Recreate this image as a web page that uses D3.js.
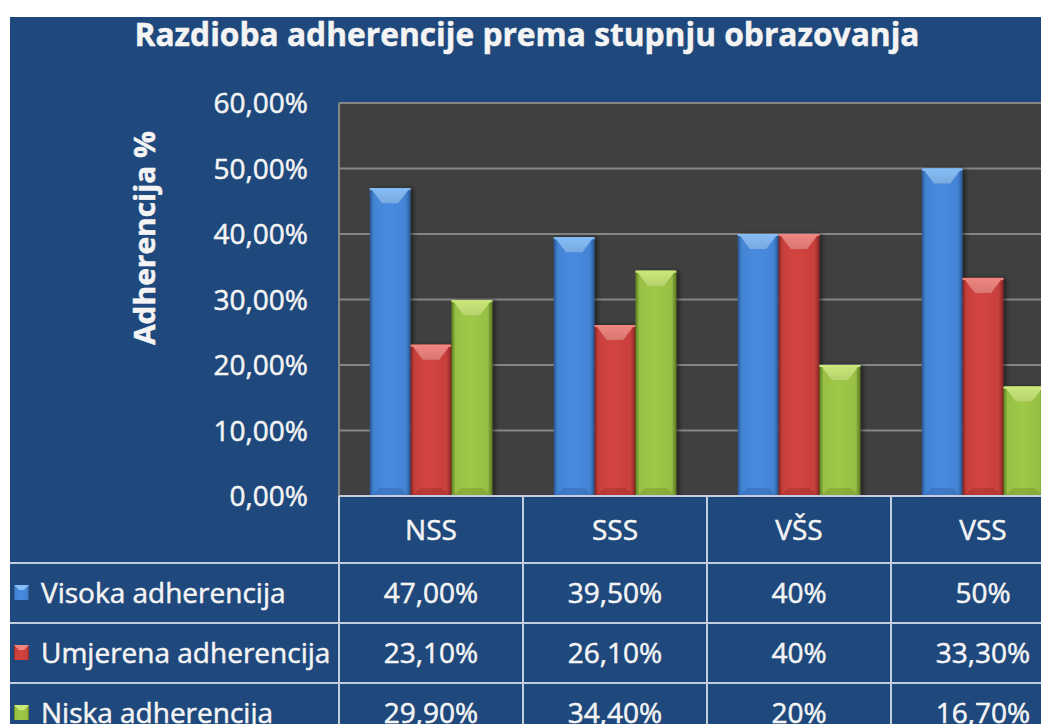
<!DOCTYPE html>
<html lang="hr">
<head>
<meta charset="utf-8">
<title>Razdioba adherencije prema stupnju obrazovanja</title>
<script src="https://d3js.org/d3.v7.min.js"></script>
<style>
  body { margin: 0; background: #fff; }
  svg { display: block; font-family: "Open Sans", "Noto Sans", sans-serif; }
  .txt { fill: #f4f4f4; stroke: #f4f4f4; stroke-width: 0.5px; }
</style>
</head>
<body>
<svg id="chart" width="1041" height="724"></svg>
<script>
// data
const categories = ["NSS", "SSS", "VŠS", "VSS"];
const seriesNames = ["Visoka adherencija", "Umjerena adherencija", "Niska adherencija"];
const visoka = [47.0, 39.5, 40, 50];
const umjerena = [23.1, 26.1, 40, 33.3];
const niska = [29.9, 34.4, 20, 16.7];
const visokaLabels = ["47,00%", "39,50%", "40%", "50%"];
const umjerenaLabels = ["23,10%", "26,10%", "40%", "33,30%"];
const niskaLabels = ["29,90%", "34,40%", "20%", "16,70%"];
const yTicks = [0, 10, 20, 30, 40, 50, 60];
const yTickLabels = ["0,00%", "10,00%", "20,00%", "30,00%", "40,00%", "50,00%", "60,00%"];

const seriesValues = [visoka, umjerena, niska];
const seriesLabels = [visokaLabels, umjerenaLabels, niskaLabels];

// colours: base, light, dark
const palette = [
  {base: "#4384d4", light: "#86bdf7", dark: "#2a5794"},
  {base: "#c8403c", light: "#f08580", dark: "#872624"},
  {base: "#97bf44", light: "#cbe97a", dark: "#5b7a22"}
];

const svg = d3.select("#chart");
const W = 1041, H = 724;

// layout
const panelX = 10, panelY = 17;
const plotLeft = 339, plotTop = 103, plotBottom = 496;
const colW = 184;
const rowLines = [563, 623, 683];
const rowH = 60;

const defs = svg.append("defs");
palette.forEach(function(c, i) {
  const g = defs.append("linearGradient").attr("id", "barGrad" + i)
    .attr("x1", "0%").attr("x2", "100%").attr("y1", "0%").attr("y2", "0%");
  g.append("stop").attr("offset", "0%").attr("stop-color", c.dark);
  g.append("stop").attr("offset", "10%").attr("stop-color", c.base);
  g.append("stop").attr("offset", "45%").attr("stop-color", d3.color(c.base).brighter(0.15));
  g.append("stop").attr("offset", "88%").attr("stop-color", c.base);
  g.append("stop").attr("offset", "100%").attr("stop-color", c.dark);
  const t = defs.append("linearGradient").attr("id", "topGrad" + i)
    .attr("x1", "0%").attr("x2", "0%").attr("y1", "0%").attr("y2", "100%");
  t.append("stop").attr("offset", "0%").attr("stop-color", c.light);
  t.append("stop").attr("offset", "100%").attr("stop-color", d3.color(c.light).darker(0.3));
});
const shadow = defs.append("filter").attr("id", "shadow")
  .attr("x", "-20%").attr("y", "-10%").attr("width", "150%").attr("height", "130%");
shadow.append("feDropShadow").attr("dx", 3).attr("dy", 0).attr("stdDeviation", 2)
  .attr("flood-color", "#000").attr("flood-opacity", 0.45);

// background panel
svg.append("rect").attr("x", panelX).attr("y", panelY)
  .attr("width", W - panelX).attr("height", H - panelY).attr("fill", "#1f487c");

// scales
const x = d3.scaleBand()
  .domain(categories)
  .range([plotLeft, plotLeft + colW * categories.length])
  .paddingInner(0).paddingOuter(0);

const xSub = d3.scaleBand()
  .domain(seriesNames)
  .range([0, x.bandwidth()])
  .paddingInner(0).paddingOuter(0.75);

const y = d3.scaleLinear().domain([0, 60]).range([plotBottom, plotTop]);

// plot area
svg.append("rect").attr("x", plotLeft).attr("y", plotTop)
  .attr("width", W - plotLeft).attr("height", plotBottom - plotTop)
  .attr("fill", "#404040");

svg.append("g").selectAll("line").data(yTicks).enter().append("line")
  .attr("x1", plotLeft).attr("x2", W)
  .attr("y1", function(d) { return y(d); }).attr("y2", function(d) { return y(d); })
  .attr("stroke", "#868686").attr("stroke-width", 2);

svg.append("line").attr("x1", plotLeft).attr("x2", plotLeft)
  .attr("y1", plotTop).attr("y2", plotBottom)
  .attr("stroke", "#868686").attr("stroke-width", 2);

// y tick labels
svg.append("g").selectAll("text").data(yTicks).enter().append("text")
  .attr("class", "txt")
  .attr("x", 308)
  .attr("y", function(d) { return y(d); })
  .attr("dy", "0.36em")
  .attr("text-anchor", "end")
  .style("font-size", "28px")
  .text(function(d, i) { return yTickLabels[i]; });

// y axis title
svg.append("text").attr("class", "txt")
  .attr("transform", "translate(155,238) rotate(-90)")
  .attr("text-anchor", "middle")
  .style("font-size", "28px").style("font-weight", "bold")
  .attr("textLength", 214).attr("lengthAdjust", "spacingAndGlyphs")
  .text("Adherencija %");

// title
svg.append("text").attr("class", "txt")
  .attr("x", 527).attr("y", 46)
  .attr("text-anchor", "middle")
  .style("font-size", "33px").style("font-weight", "bold")
  .attr("textLength", 785).attr("lengthAdjust", "spacingAndGlyphs")
  .text("Razdioba adherencije prema stupnju obrazovanja");

// bars
const groups = svg.append("g").selectAll("g").data(categories).enter().append("g")
  .attr("transform", function(d) { return "translate(" + x(d) + ",0)"; });

groups.each(function(cat, ci) {
  const g = d3.select(this);
  seriesNames.forEach(function(s, si) {
    const v = seriesValues[si][ci];
    const bx = xSub(s), bw = xSub.bandwidth();
    const top = y(v), bottom = y(0);
    const bar = g.append("g");
    bar.append("rect")
      .attr("x", bx).attr("y", top).attr("width", bw).attr("height", bottom - top)
      .attr("fill", "url(#barGrad" + si + ")")
      .attr("filter", "url(#shadow)");
    const bev = Math.min(15, (bottom - top) / 2);
    bar.append("polygon")
      .attr("points", [[bx + 1, top], [bx + bw - 1, top], [bx + bw * 0.7, top + bev], [bx + bw * 0.3, top + bev]]
        .map(function(p) { return p.join(","); }).join(" "))
      .attr("fill", "url(#topGrad" + si + ")");
    bar.append("rect").attr("x", bx).attr("y", top).attr("width", bw).attr("height", 2)
      .attr("fill", palette[si].light);
    bar.append("polygon")
      .attr("points", [[bx + 1, bottom], [bx + bw - 1, bottom], [bx + bw * 0.75, bottom - 8], [bx + bw * 0.25, bottom - 8]]
        .map(function(p) { return p.join(","); }).join(" "))
      .attr("fill", palette[si].dark).attr("opacity", 0.3);
  });
});

// table grid
const lineColor = "#c3cddb";
const grid = svg.append("g").attr("stroke", lineColor).attr("stroke-width", 2);
grid.append("line").attr("x1", plotLeft).attr("x2", W).attr("y1", plotBottom).attr("y2", plotBottom);
rowLines.forEach(function(ry) {
  grid.append("line").attr("x1", panelX).attr("x2", W).attr("y1", ry).attr("y2", ry);
});
categories.forEach(function(c) {
  grid.append("line").attr("x1", x(c)).attr("x2", x(c)).attr("y1", plotBottom).attr("y2", H);
});

// category headers
svg.append("g").selectAll("text").data(categories).enter().append("text")
  .attr("class", "txt")
  .attr("x", function(d) { return x(d) + x.bandwidth() / 2; })
  .attr("y", (plotBottom + rowLines[0]) / 2)
  .attr("dy", "0.36em")
  .attr("text-anchor", "middle")
  .style("font-size", "28px")
  .text(function(d) { return d; });

// table rows
seriesNames.forEach(function(s, si) {
  const cy = rowLines[si] + rowH / 2;
  // legend key
  const k = svg.append("g");
  k.append("rect").attr("x", 14).attr("y", cy - 8).attr("width", 15).attr("height", 15)
    .attr("fill", "url(#barGrad" + si + ")");
  k.append("polygon")
    .attr("points", [[14, cy - 8], [29, cy - 8], [24, cy - 3], [19, cy - 3]]
      .map(function(p) { return p.join(","); }).join(" "))
    .attr("fill", palette[si].light);
  svg.append("text").attr("class", "txt")
    .attr("x", 41).attr("y", cy).attr("dy", "0.36em")
    .style("font-size", "28px")
    .text(s);
  svg.append("g").selectAll("text").data(categories).enter().append("text")
    .attr("class", "txt")
    .attr("x", function(d) { return x(d) + x.bandwidth() / 2; })
    .attr("y", cy).attr("dy", "0.36em")
    .attr("text-anchor", "middle")
    .style("font-size", "28px")
    .text(function(d, ci) { return seriesLabels[si][ci]; });
});
</script>
</body>
</html>
